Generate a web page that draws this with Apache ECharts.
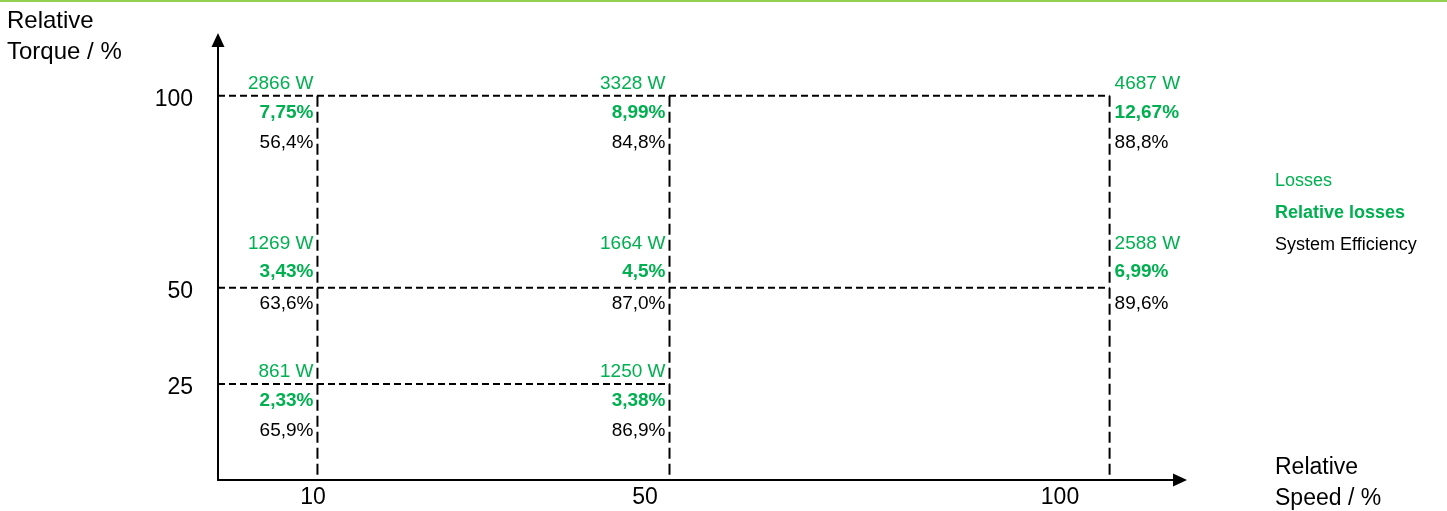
<!DOCTYPE html>
<html><head><meta charset="utf-8">
<script src="https://cdn.jsdelivr.net/npm/echarts@6/dist/echarts.min.js"></script>
<style>html,body{margin:0;padding:0;background:#fff}#c{width:1447px;height:511px}</style>
</head><body><div id="c"></div>
<script>
// ---- data ----
const speedTicks = [10, 50, 100];
const torqueTicks = [25, 50, 100];
const pointSpeed = [10, 50, 100, 10, 50, 100, 10, 50];
const pointTorque = [100, 100, 100, 50, 50, 50, 25, 25];
const lossesW = [2866, 3328, 4687, 1269, 1664, 2588, 861, 1250];
const relativeLosses = [7.75, 8.99, 12.67, 3.43, 4.5, 6.99, 2.33, 3.38];
const systemEfficiency = [56.4, 84.8, 88.8, 63.6, 87.0, 89.6, 65.9, 86.9];
const seriesNames = ['Losses', 'Relative losses', 'System Efficiency'];
const speedName = 'Relative\nSpeed / %';
const torqueName = 'Relative\nTorque / %';

// ---- style ----
const GREEN = '#00B050';
const FONT = '"Liberation Sans", Arial, Helvetica, sans-serif';
const X_MIN = -1.3, X_MAX = 108, Y_MIN = 0, Y_MAX = 114.5;

const maxSpeed = Math.max(...pointSpeed);
function rowOffsets(torque) {
  return torque === 50 ? [-44, -16, 16] : [-12, 17, 47];
}
function comma(v, digits) { return (digits == null ? String(v) : v.toFixed(digits)).replace('.', ','); }

const texts = [
  lossesW.map(v => v + ' W'),
  relativeLosses.map(v => comma(v) + '%'),
  systemEfficiency.map(v => comma(v, 1) + '%')
];
const styles = [
  {color: GREEN, fontWeight: 'normal'},
  {color: GREEN, fontWeight: 'bold'},
  {color: '#000', fontWeight: 'normal'}
];

const labelSeries = seriesNames.map((name, k) => ({
  name, type: 'scatter', symbolSize: 1, silent: true, z: 5,
  itemStyle: {color: 'rgba(255,255,255,0)', opacity: 1},
  data: pointSpeed.map((s, i) => {
    const right = s === maxSpeed;
    return {
      value: [s, pointTorque[i]],
      label: {
        show: true, position: [0.5, 0.5], formatter: texts[k][i],
        align: right ? 'left' : 'right', verticalAlign: 'middle',
        offset: [right ? 5 : -4, rowOffsets(pointTorque[i])[k]],
        color: styles[k].color, fontWeight: styles[k].fontWeight, opacity: 1,
        textBorderWidth: 0, textBorderColor: 'transparent',
        fontSize: 19, fontFamily: FONT
      }
    };
  })
}));

const dashH = {color: '#000', width: 2, type: [7, 4]};
const dashV = {color: '#000', width: 2, type: [11, 5]};
const torqueLevels = [...new Set(pointTorque)];
const speedLevels = [...new Set(pointSpeed)];
const hLines = torqueLevels.map(t => {
  const xs = pointSpeed.filter((s, i) => pointTorque[i] === t);
  return {type: 'line', silent: true, symbol: 'none', z: 3, lineStyle: dashH,
    data: [[X_MIN, t], [Math.max(...xs), t]]};
});
const vLines = speedLevels.map(s => {
  const ts = pointTorque.filter((t, i) => pointSpeed[i] === s);
  return {type: 'line', silent: true, symbol: 'none', z: 3, lineStyle: dashV,
    data: [[s, Math.max(...ts)], [s, Y_MIN]]};
});

const chart = echarts.init(document.getElementById('c'), null, {renderer: 'canvas'});
chart.setOption({
  animation: false,
  backgroundColor: '#fff',
  textStyle: {fontFamily: FONT},
  graphic: [{type: 'rect', left: 0, top: 0, shape: {width: 1447, height: 2}, style: {fill: '#92D050'}, silent: true}],
  grid: {left: 218, right: 267, top: 40, bottom: 31, containLabel: false, outerBoundsMode: 'none'},
  legend: {
    orient: 'vertical', left: 1265, top: 166, itemWidth: 0, itemHeight: 20, itemGap: 12,
    icon: 'none', selectedMode: false,
    textStyle: {fontSize: 18, fontFamily: FONT, lineHeight: 20},
    data: seriesNames.map((n, k) => ({name: n, icon: 'none',
      textStyle: {color: styles[k].color, fontWeight: styles[k].fontWeight}}))
  },
  xAxis: [{
    type: 'value', min: X_MIN, max: X_MAX, position: 'bottom',
    axisLine: {show: true, onZero: false, symbol: ['none', 'triangle'], symbolSize: [13, 14],
      lineStyle: {color: '#000', width: 2}},
    axisTick: {show: false}, axisLabel: {show: false}, splitLine: {show: false},
    name: speedName, nameLocation: 'end', nameGap: 95,
    nameTextStyle: {fontSize: 23, fontFamily: FONT, color: '#000', lineHeight: 31,
      verticalAlign: 'top', padding: [-28, 0, 0, 0]}
  }, {
    type: 'value', min: -1.45, max: 114.46, position: 'bottom', offset: 0,
    axisLine: {show: false}, axisTick: {show: false}, splitLine: {show: false},
    axisLabel: {customValues: speedTicks, margin: 6, fontSize: 23, fontFamily: FONT, color: '#000'}
  }],
  yAxis: {
    type: 'value', min: Y_MIN, max: Y_MAX,
    axisLine: {show: true, onZero: false, symbol: ['none', 'triangle'], symbolSize: [13, 14],
      lineStyle: {color: '#000', width: 2}},
    axisTick: {show: false}, splitLine: {show: false},
    axisLabel: {customValues: torqueTicks, margin: 25, fontSize: 23, fontFamily: FONT, color: '#000',
      lineHeight: 23, verticalAlign: 'top', padding: [-8, 0, 0, 0]},
    name: torqueName, nameLocation: 'end', nameGap: 3.5,
    nameTextStyle: {fontSize: 24, fontFamily: FONT, color: '#000', lineHeight: 31,
      align: 'left', verticalAlign: 'middle', padding: [0, 0, 0, -211]}
  },
  series: [...hLines, ...vLines, ...labelSeries]
});
</script></body></html>
